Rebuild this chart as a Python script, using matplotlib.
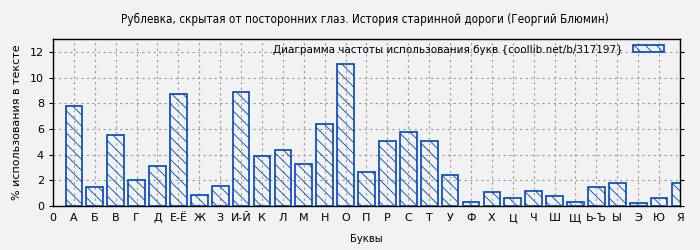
import matplotlib
matplotlib.use("Agg")
import matplotlib.pyplot as plt
from matplotlib.patches import Patch

plt.rcParams['font.family'] = ['DejaVu Sans']
plt.rcParams['hatch.color'] = '#0047bb'
plt.rcParams['hatch.linewidth'] = 0.6

letters = ['0', 'А', 'Б', 'В', 'Г', 'Д', 'Е-Ё', 'Ж', 'З', 'И-Й', 'К', 'Л', 'М', 'Н', 'О',
           'П', 'Р', 'С', 'Т', 'У', 'Ф', 'Х', 'Ц', 'Ч', 'Ш', 'Щ', 'Ь-Ъ', 'Ы', 'Э', 'Ю', 'Я']
values = [0.0, 7.8, 1.46, 5.52, 2.0, 3.1, 8.73, 0.84, 1.54, 8.88, 3.88, 4.35, 3.26, 6.38, 11.07,
          2.63, 5.05, 5.76, 5.05, 2.40, 0.29, 1.07, 0.60, 1.15, 0.76, 0.29, 1.46, 1.77, 0.21, 0.60, 1.77]

title = 'Рублевка, скрытая от посторонних глаз. История старинной дороги (Георгий Блюмин)'
legend_label = 'Диаграмма частоты использования букв {coollib.net/b/317197}'

bg = '#f2f2f2'
blue = '#0047bb'

fig = plt.figure(figsize=(7, 2.5), dpi=100, facecolor=bg)
ax = fig.add_axes([0.0757, 0.176, 0.8957, 0.668], facecolor=bg)

xs = list(range(len(letters)))
ax.bar(xs[1:], values[1:], width=0.8, facecolor='none', edgecolor=blue,
       linewidth=1.2, hatch='\\\\\\', zorder=3)

ax.set_xlim(0, len(letters) - 1)
ax.set_ylim(0, 13)
ax.set_xticks(xs)
ax.set_xticklabels(letters, fontsize=8)
ax.set_yticks(range(0, 13, 2))
ax.tick_params(axis='y', labelsize=8, length=3, direction='out')
ax.tick_params(axis='y', which='both', right=True, labelright=False)
ax.tick_params(axis='x', length=0, pad=5)
ax.grid(True, color='#999999', linestyle=(0, (2, 3)), linewidth=0.8, zorder=0)
for s in ax.spines.values():
    s.set_color('black')
    s.set_linewidth(1.0)

ax.set_xlabel('Буквы', fontsize=8, labelpad=8, stretch='condensed')
ax.set_ylabel('% использования в тексте', fontsize=8, labelpad=6)
fig.text(0.521, 0.924, title, ha='center', va='center', fontsize=8.4,
         stretch='condensed')

handle = Patch(facecolor='none', edgecolor=blue, hatch='\\\\\\', linewidth=1.2)
leg = ax.legend([handle], [legend_label], loc='upper right', frameon=False,
                markerfirst=False, fontsize=7.5, handlelength=3.0, handleheight=0.65,
                borderaxespad=1.1, borderpad=0.4, handletextpad=1.0)
leg.set_zorder(5)
leg.set_bbox_to_anchor((1.0, 1.06), transform=ax.transAxes)

fig.savefig('out.png', dpi=100, facecolor=bg)
